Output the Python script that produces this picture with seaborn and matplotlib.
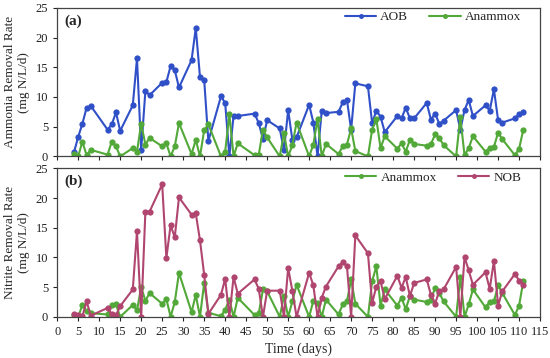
import matplotlib
matplotlib.use("Agg")
import matplotlib.pyplot as plt
import seaborn as sns

# sampling days (same for every series)
days = [4, 5, 6, 7, 8, 12, 13, 14, 15, 18, 19, 20, 21, 22, 25, 26, 27, 28, 29,
        32, 33, 34, 35, 36, 39, 40, 41, 42, 43, 47, 48, 49, 50, 53, 54, 55, 56, 57,
        60, 61, 62, 63, 64, 67, 68, 69, 70, 71, 74, 75, 76, 77, 78, 81, 82, 83, 84, 85,
        88, 89, 90, 91, 92, 95, 96, 97, 98, 99, 102, 103, 104, 105, 106, 109, 110, 111]

# (a) ammonia removal
aob = [0.7, 3.3, 5.5, 8.2, 8.5, 4.5, 5.4, 7.4, 4.3, 8.6, 16.5, 1.1, 11.0, 10.3,
       12.4, 12.5, 15.2, 14.5, 11.6, 16.2, 21.6, 13.4, 12.9, 2.6, 10.1, 9.0, 0.0, 6.8, 6.8,
       7.2, 5.6, 2.9, 6.1, 4.7, 1.0, 7.8, 2.8, 3.2, 8.7, 5.7, 0.0, 7.7, 7.3,
       7.5, 9.1, 9.5, 4.5, 12.3, 11.8, 5.6, 7.7, 6.7, 4.1, 6.8, 6.4, 8.2, 6.4, 6.4,
       9.0, 6.2, 7.2, 5.5, 6.0, 7.8, 4.5, 7.8, 9.5, 6.8, 8.6, 7.7, 11.3, 6.1, 5.7,
       6.4, 7.1, 7.5]
anammox_a = [0.4, 0.0, 2.5, 0.2, 1.1, 0.3, 2.5, 1.7, 0.0, 1.4, 0.8, 5.5, 2.0, 3.1,
             1.7, 2.2, 0.0, 1.7, 5.6, 0.4, 2.8, 0.0, 4.4, 5.4, 0.0, 0.8, 7.1, 0.0, 2.2,
             0.2, 0.3, 4.5, 3.2, 0.0, 3.9, 0.0, 1.9, 5.7, 0.0, 2.0, 6.3, 0.0, 2.1,
             0.4, 1.7, 2.0, 4.7, 0.9, 0.0, 4.5, 6.3, 1.4, 3.4, 1.3, 2.2, 0.8, 2.8, 2.1,
             1.8, 2.1, 3.7, 3.1, 1.9, 0.0, 6.6, 0.2, 1.4, 3.4, 0.8, 1.4, 1.6, 4.0, 2.9,
             0.2, 1.3, 4.5]

# (b) nitrite removal
anammox_b = [0.3, 0.0, 2.0, 0.9, 0.6, 0.4, 2.0, 2.1, 0.0, 2.0, 1.1, 5.0, 2.7, 4.0,
             2.2, 3.0, 0.0, 2.5, 7.4, 0.8, 3.7, 0.0, 5.7, 0.7, 0.1, 1.2, 2.9, 0.0, 3.2,
             0.3, 0.6, 4.6, 4.3, 0.0, 3.5, 0.0, 2.6, 5.4, 0.0, 2.7, 2.4, 0.0, 2.9,
             0.4, 2.1, 2.6, 6.3, 2.2, 0.0, 6.0, 8.5, 1.9, 4.6, 1.9, 3.2, 1.3, 3.5, 2.9,
             2.5, 2.9, 4.9, 4.0, 2.6, 0.0, 6.7, 0.0, 2.1, 4.6, 1.6, 2.5, 2.6, 5.3, 4.0,
             0.3, 1.9, 6.0]
nob = [0.5, 0.3, 0.1, 2.6, 0.2, 1.5, 0.4, 0.3, 1.8, 4.6, 14.4, 0.0, 17.7, 17.7,
       22.3, 9.9, 15.4, 13.4, 20.1, 17.2, 17.4, 12.9, 7.1, 0.5, 3.7, 6.4, 0.0, 6.7, 3.9,
       6.3, 4.7, 0.0, 4.4, 4.4, 0.0, 8.2, 4.4, 0.0, 7.4, 5.3, 0.0, 3.2, 5.1,
       8.5, 9.2, 8.5, 0.0, 13.7, 10.7, 2.3, 5.1, 6.0, 3.0, 6.9, 4.9, 6.7, 3.5, 5.7,
       6.3, 3.7, 2.2, 4.4, 4.6, 8.4, 0.0, 10.1, 7.8, 5.4, 7.5, 4.7, 9.4, 1.9, 4.3,
       7.2, 6.1, 5.3]

blue = "#3050c8"
green = "#52a838"
rose = "#b0466f"

sns.set_style("ticks")
plt.rcParams['font.family'] = ['Liberation Serif', 'DejaVu Serif']
plt.rcParams['xtick.direction'] = 'out'
plt.rcParams['ytick.direction'] = 'out'

fig, (ax1, ax2) = plt.subplots(2, 1, figsize=(5.5, 3.58), dpi=100)
fig.subplots_adjust(left=0.104, right=0.982, top=0.978, bottom=0.115, hspace=0.08)

line_kw = dict(marker='o', markersize=4.5, markeredgewidth=0, linewidth=1.5)

sns.lineplot(x=days, y=aob, ax=ax1, color=blue, label='AOB', **line_kw)
sns.lineplot(x=days, y=anammox_a, ax=ax1, color=green, label='Anammox', **line_kw)

sns.lineplot(x=days, y=anammox_b, ax=ax2, color=green, label='Anammox', **line_kw)
sns.lineplot(x=days, y=nob, ax=ax2, color=rose, label='NOB', **line_kw)

for ax, tag in [(ax1, '(a)'), (ax2, '(b)')]:
    ax.set_xlim(0, 115)
    ax.set_ylim(0, 25)
    ax.set_xticks(range(0, 116, 5))
    ax.set_yticks(range(0, 26, 5))
    ax.tick_params(labelsize=9, length=3, width=0.8, colors='#222222')
    for s in ax.spines.values():
        s.set_visible(True)
        s.set_color('#444444')
        s.set_linewidth(0.9)
    ax.text(0.015, 0.955, tag, transform=ax.transAxes, fontsize=11,
            fontweight='bold', va='top', ha='left')
    leg = ax.legend(loc='upper right', bbox_to_anchor=(0.972, 1.015), ncol=2,
                    frameon=False, fontsize=9.5, handlelength=2.4,
                    columnspacing=1.6, borderaxespad=0.0, handletextpad=0.3,
                    markerscale=0.8)

ax1.set_xticklabels([])
ax1.set_xlabel('')
ax1.set_ylabel('Ammonia Removal Rate\n(mg N/L/d)', fontsize=9.5, labelpad=4)
ax2.set_ylabel('Nitrite Removal Rate\n(mg N/L/d)', fontsize=9.5, labelpad=4)
ax2.set_xlabel('Time (days)', fontsize=10, labelpad=3)

fig.savefig('out.png', dpi=100)
